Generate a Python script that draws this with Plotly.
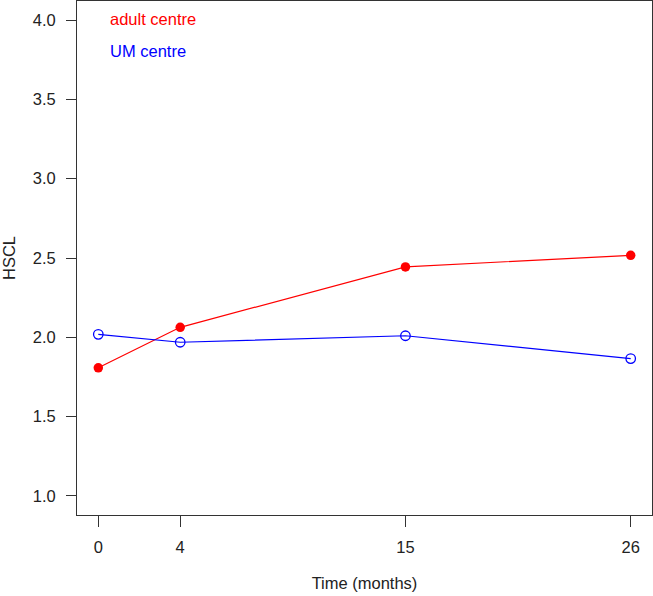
import plotly.graph_objects as go

time_months = [0, 4, 15, 26]
adult_centre = [1.808, 2.063, 2.444, 2.517]
um_centre = [2.019, 1.969, 2.010, 1.866]
x_ticks = [0, 4, 15, 26]
y_ticks = [1.0, 1.5, 2.0, 2.5, 3.0, 3.5, 4.0]

FONT = "Liberation Sans, Arial, sans-serif"
FS = 16.5

fig = go.Figure()
fig.add_trace(go.Scatter(
    x=time_months, y=adult_centre, mode="lines+markers", name="adult centre",
    line=dict(color="#ff0000", width=1.2),
    marker=dict(symbol="circle", size=9.5, color="#ff0000"),
))
fig.add_trace(go.Scatter(
    x=time_months, y=um_centre, mode="lines+markers", name="UM centre",
    line=dict(color="#0000ff", width=1.2),
    marker=dict(symbol="circle-open", size=9.5, color="#0000ff", line=dict(width=1.3)),
))

fig.add_annotation(x=0.054, y=0.965, xref="paper", yref="paper", xanchor="left", yanchor="middle",
                   text="adult centre", showarrow=False, font=dict(color="#ff0000", size=FS, family=FONT))
fig.add_annotation(x=0.054, y=0.903, xref="paper", yref="paper", xanchor="left", yanchor="middle",
                   text="UM centre", showarrow=False, font=dict(color="#0000ff", size=FS, family=FONT))

fig.update_layout(
    width=653, height=596,
    margin=dict(l=77, r=1, t=1, b=81),
    paper_bgcolor="white", plot_bgcolor="white",
    showlegend=False,
    font=dict(family=FONT, size=FS, color="#222222"),
    xaxis=dict(
        range=[-1.04, 27.04], tickmode="array", tickvals=x_ticks,
        ticktext=[str(v) for v in x_ticks],
        ticks="outside", ticklen=11, tickwidth=1, tickcolor="#333333",
        ticklabelstandoff=6,
        showline=True, linecolor="#333333", linewidth=1, mirror=True,
        showgrid=False, zeroline=False,
        title=dict(text="Time (months)", standoff=22, font=dict(size=FS)),
    ),
    yaxis=dict(
        range=[0.88, 4.12], tickmode="array", tickvals=y_ticks,
        ticktext=[f"{v:.1f}" for v in y_ticks],
        ticks="outside", ticklen=10, tickwidth=1, tickcolor="#333333",
        ticklabelstandoff=7,
        showline=True, linecolor="#333333", linewidth=1, mirror=True,
        showgrid=False, zeroline=False,
        title=dict(text="HSCL", standoff=12, font=dict(size=FS)),
    ),
)

fig.write_html("out.html", config={"displayModeBar": False},
               post_script="document.body.style.margin='0';")
